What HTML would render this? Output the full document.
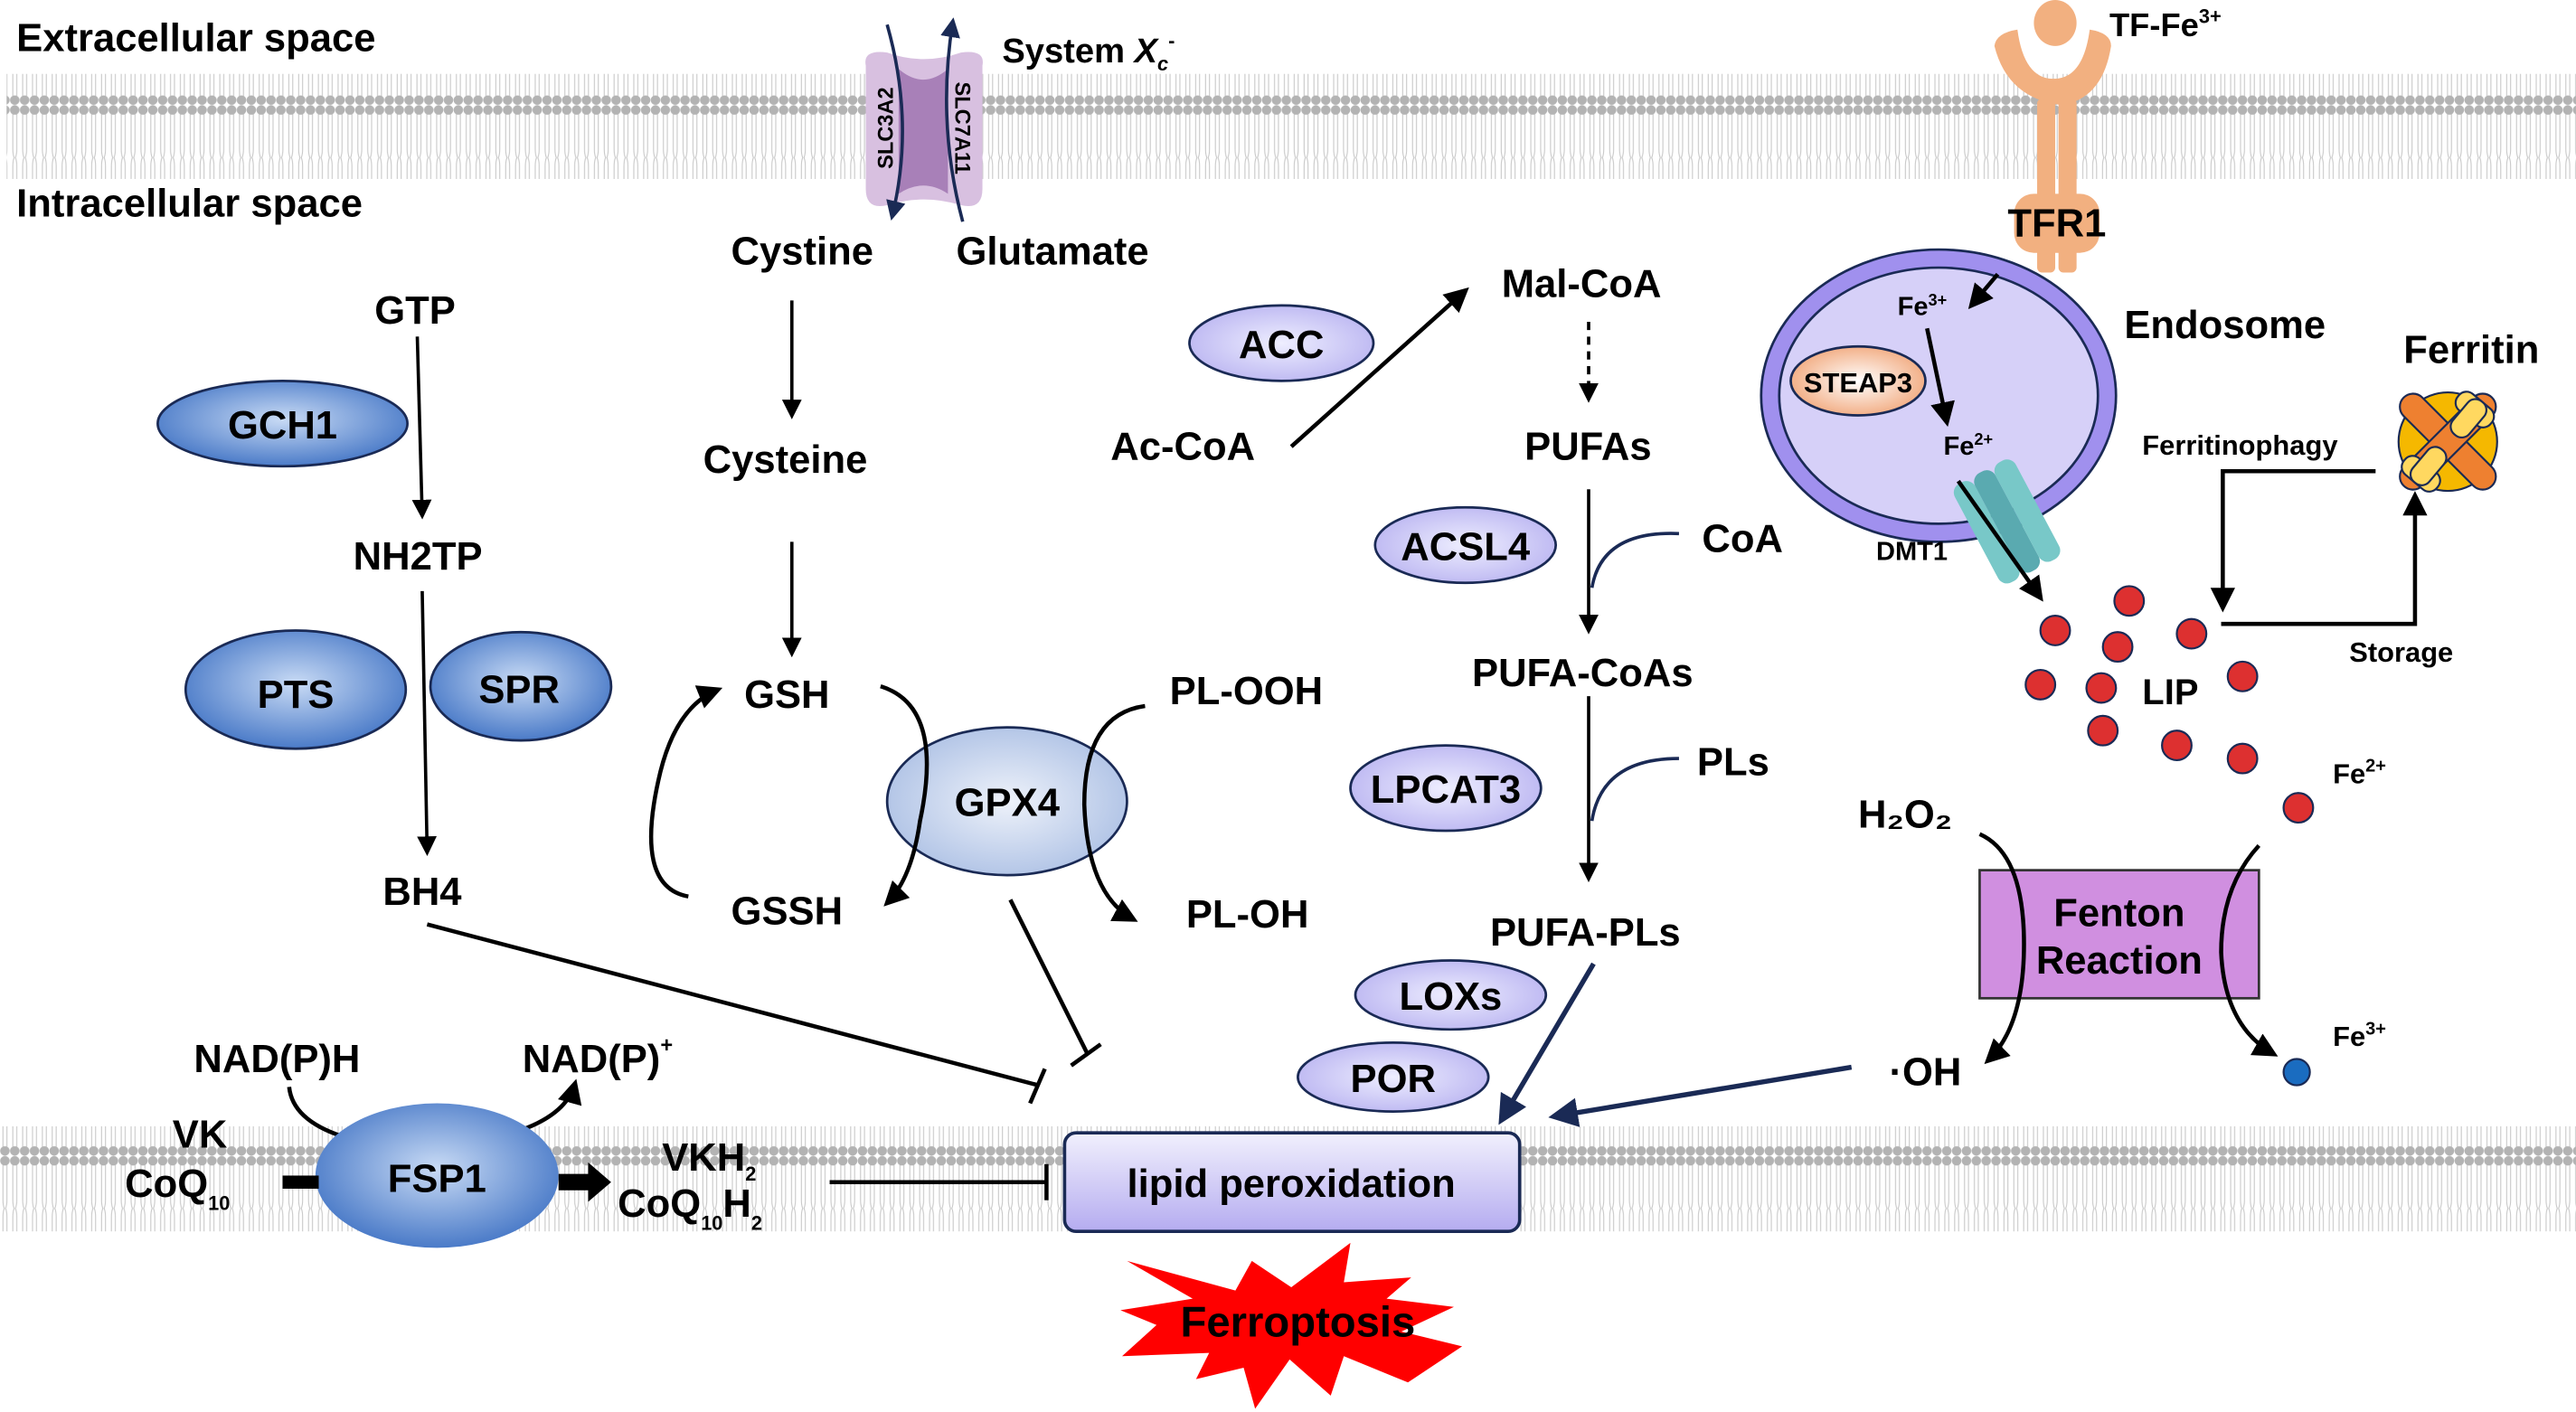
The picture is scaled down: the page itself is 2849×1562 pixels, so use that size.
<!DOCTYPE html>
<html><head><meta charset="utf-8"><style>
html,body{margin:0;padding:0;background:#fff;}
svg{display:block;}
text{font-family:"Liberation Sans",Arial,sans-serif;font-weight:bold;fill:#000;}
</style></head><body>
<svg width="2849" height="1562" viewBox="0 0 1568 860" preserveAspectRatio="none" xmlns="http://www.w3.org/2000/svg">
<defs>
<pattern id="mem" x="0" y="0" width="6" height="64" patternUnits="userSpaceOnUse">
<path d="M1.8 4 V27 Q1.8 30 2.6 32 Q1.8 34 1.8 37 V60 M4.2 4 V27 Q4.2 30 3.4 32 Q4.2 34 4.2 37 V60" stroke="#c8c8c8" stroke-width="0.6" fill="none"/>
<circle cx="3" cy="3" r="2.9" fill="#b3b3b3"/>
<circle cx="3" cy="61" r="2.9" fill="#b3b3b3"/>
</pattern>
<radialGradient id="blue" cx="50%" cy="45%" r="60%"><stop offset="0" stop-color="#c9dbf5"/><stop offset="1" stop-color="#3f72c4"/></radialGradient>
<radialGradient id="lblue" cx="50%" cy="50%" r="60%"><stop offset="0" stop-color="#eef2fa"/><stop offset="1" stop-color="#a8bde3"/></radialGradient>
<radialGradient id="lav" cx="50%" cy="50%" r="60%"><stop offset="0" stop-color="#eeeeff"/><stop offset="1" stop-color="#b7b1f0"/></radialGradient>
<linearGradient id="lavbox" x1="0" y1="0" x2="0" y2="1"><stop offset="0" stop-color="#f1f0fd"/><stop offset="1" stop-color="#b5acf0"/></linearGradient>
<radialGradient id="org" cx="50%" cy="50%" r="60%"><stop offset="0" stop-color="#fff" /><stop offset="1" stop-color="#f0a070"/></radialGradient>
<marker id="ah" viewBox="0 0 10 10" refX="8" refY="5" markerWidth="6" markerHeight="6" orient="auto-start-reverse"><path d="M0 0 L10 5 L0 10 z" fill="#000"/></marker>
<marker id="ahn" viewBox="0 0 10 10" refX="8" refY="5" markerWidth="6" markerHeight="6" orient="auto-start-reverse"><path d="M0 0 L10 5 L0 10 z" fill="#1a2a55"/></marker>
</defs>
<rect width="1568" height="860" fill="#fff"/>
<rect x="4" y="45" width="1564" height="64" fill="url(#mem)"/>
<rect x="0" y="686" width="1568" height="64" fill="url(#mem)"/>

<text x="10" y="31" font-size="24">Extracellular space</text>
<text x="10" y="132" font-size="24">Intracellular space</text>

<path d="M527 40 Q525 30 540 32 Q562 40 585 32 Q600 30 598 40 L598 115 Q598 128 585 125 Q562 118 540 125 Q527 128 527 115 Z" fill="#d8c0e0"/>
<path d="M547 42 Q562 55 577 42 L577 118 Q562 108 547 118 Z" fill="#a880b8"/>
<text transform="translate(540 78) rotate(-90)" font-size="13" text-anchor="middle" dominant-baseline="middle">SLC3A2</text>
<text transform="translate(585 78) rotate(90)" font-size="13" text-anchor="middle" dominant-baseline="middle">SLC7A11</text>
<path d="M540 15 Q557 75 543 132" stroke="#1a2a55" stroke-width="2" fill="none" marker-end="url(#ahn)"/>
<path d="M586 135 Q570 75 580 13" stroke="#1a2a55" stroke-width="2" fill="none" marker-end="url(#ahn)"/>
<text x="610" y="38" font-size="21">System <tspan font-style="italic">X</tspan><tspan font-size="12" dy="5" font-style="italic">c</tspan><tspan font-size="12" dy="-14">-</tspan></text>
<text x="445" y="161" font-size="24">Cystine</text>
<text x="582" y="161" font-size="24">Glutamate</text>

<text x="228" y="197" font-size="24">GTP</text>
<ellipse cx="172" cy="258" rx="76" ry="26" fill="url(#blue)" stroke="#1a2a55" stroke-width="1.5"/>
<text x="172" y="267" font-size="24" text-anchor="middle">GCH1</text>
<line x1="254" y1="205" x2="257" y2="314" stroke="#000" stroke-width="2" marker-end="url(#ah)"/>
<text x="215" y="347" font-size="24">NH2TP</text>
<ellipse cx="180" cy="420" rx="67" ry="36" fill="url(#blue)" stroke="#1a2a55" stroke-width="1.5"/>
<text x="180" y="431" font-size="24" text-anchor="middle">PTS</text>
<ellipse cx="317" cy="418" rx="55" ry="33" fill="url(#blue)" stroke="#1a2a55" stroke-width="1.5"/>
<text x="316" y="428" font-size="24" text-anchor="middle">SPR</text>
<line x1="257" y1="360" x2="260" y2="519" stroke="#000" stroke-width="2" marker-end="url(#ah)"/>
<text x="233" y="551" font-size="24">BH4</text>
<line x1="260" y1="563" x2="632" y2="661" stroke="#000" stroke-width="2.5"/>
<line x1="627" y1="672" x2="636" y2="651" stroke="#000" stroke-width="2.5"/>

<line x1="482" y1="183" x2="482" y2="253" stroke="#000" stroke-width="2" marker-end="url(#ah)"/>
<text x="428" y="288" font-size="24">Cysteine</text>
<line x1="482" y1="330" x2="482" y2="398" stroke="#000" stroke-width="2" marker-end="url(#ah)"/>
<text x="453" y="431" font-size="24">GSH</text>
<text x="445" y="563" font-size="24">GSSH</text>
<ellipse cx="613" cy="488" rx="73" ry="45" fill="url(#lblue)" stroke="#1a2a55" stroke-width="1.5"/>
<text x="613" y="497" font-size="24" text-anchor="middle">GPX4</text>
<path d="M419 546 Q385 540 402 470 Q412 430 437 420" stroke="#000" stroke-width="2.5" fill="none" marker-end="url(#ah)"/>
<path d="M536 418 Q575 430 560 500 Q555 535 540 550" stroke="#000" stroke-width="2.5" fill="none" marker-end="url(#ah)"/>
<path d="M697 430 Q660 435 660 490 Q662 545 690 560" stroke="#000" stroke-width="2.5" fill="none" marker-end="url(#ah)"/>
<text x="712" y="429" font-size="24">PL-OOH</text>
<text x="722" y="565" font-size="24">PL-OH</text>
<line x1="615" y1="548" x2="662" y2="642" stroke="#000" stroke-width="2.5"/>
<line x1="652" y1="649" x2="670" y2="636" stroke="#000" stroke-width="2.5"/>

<ellipse cx="780" cy="209" rx="56" ry="23" fill="url(#lav)" stroke="#1a2a55" stroke-width="1.5"/>
<text x="780" y="218" font-size="24" text-anchor="middle">ACC</text>
<text x="676" y="280" font-size="24">Ac-CoA</text>
<line x1="786" y1="272" x2="892" y2="177" stroke="#000" stroke-width="2.5" marker-end="url(#ah)"/>
<text x="914" y="181" font-size="24">Mal-CoA</text>
<line x1="967" y1="196" x2="967" y2="243" stroke="#000" stroke-width="2" stroke-dasharray="5,4" marker-end="url(#ah)"/>
<text x="928" y="280" font-size="24">PUFAs</text>
<line x1="967" y1="298" x2="967" y2="384" stroke="#000" stroke-width="2" marker-end="url(#ah)"/>
<ellipse cx="892" cy="332" rx="55" ry="23" fill="url(#lav)" stroke="#1a2a55" stroke-width="1.5"/>
<text x="892" y="341" font-size="24" text-anchor="middle">ACSL4</text>
<path d="M1022 325 Q975 323 969 358" stroke="#1a2a55" stroke-width="2" fill="none"/>
<text x="1036" y="336" font-size="24">CoA</text>
<text x="896" y="418" font-size="24">PUFA-CoAs</text>
<line x1="967" y1="424" x2="967" y2="535" stroke="#000" stroke-width="2" marker-end="url(#ah)"/>
<ellipse cx="880" cy="480" rx="58" ry="26" fill="url(#lav)" stroke="#1a2a55" stroke-width="1.5"/>
<text x="880" y="489" font-size="24" text-anchor="middle">LPCAT3</text>
<path d="M1022 462 Q975 462 969 500" stroke="#1a2a55" stroke-width="2" fill="none"/>
<text x="1033" y="472" font-size="24">PLs</text>
<text x="907" y="576" font-size="24">PUFA-PLs</text>
<ellipse cx="883" cy="606" rx="58" ry="21" fill="url(#lav)" stroke="#1a2a55" stroke-width="1.5"/>
<text x="883" y="615" font-size="24" text-anchor="middle">LOXs</text>
<ellipse cx="848" cy="656" rx="58" ry="21" fill="url(#lav)" stroke="#1a2a55" stroke-width="1.5"/>
<text x="848" y="665" font-size="24" text-anchor="middle">POR</text>
<line x1="970" y1="587" x2="914" y2="682" stroke="#1a2a55" stroke-width="3" marker-end="url(#ahn)"/>
<line x1="1127" y1="650" x2="946" y2="680" stroke="#1a2a55" stroke-width="3" marker-end="url(#ahn)"/>

<rect x="648" y="690" width="277" height="60" rx="7" fill="url(#lavbox)" stroke="#1a2a55" stroke-width="2"/>
<text x="786" y="729" font-size="24" text-anchor="middle">lipid peroxidation</text>

<path d="M176 662 Q178 682 208 692" stroke="#000" stroke-width="2.5" fill="none"/>
<path d="M318 688 Q345 678 350 660" stroke="#000" stroke-width="2.5" fill="none" marker-end="url(#ah)"/>
<ellipse cx="266" cy="716" rx="74" ry="44" fill="url(#blue)"/>
<text x="266" y="726" font-size="24" text-anchor="middle">FSP1</text>
<text x="118" y="653" font-size="24">NAD(P)H</text>
<text x="318" y="653" font-size="24">NAD(P)<tspan font-size="13" dy="-12">+</tspan></text>
<text x="105" y="699" font-size="24">VK</text>
<text x="76" y="729" font-size="24">CoQ<tspan font-size="12" dy="8">10</tspan></text>
<rect x="172" y="716" width="22" height="8" fill="#000"/>
<path d="M340 715 L358 715 L358 708 L372 720 L358 732 L358 725 L340 725 Z" fill="#000"/>
<text x="403" y="713" font-size="24">VKH<tspan font-size="12" dy="6">2</tspan></text>
<text x="376" y="741" font-size="24">CoQ<tspan font-size="12" dy="8">10</tspan><tspan dy="-8">H</tspan><tspan font-size="12" dy="8">2</tspan></text>
<line x1="505" y1="720" x2="637" y2="720" stroke="#000" stroke-width="2.5"/>
<line x1="637" y1="709" x2="637" y2="731" stroke="#000" stroke-width="2.5"/>

<polygon points="686,768 752,786 762,768 786,784 822,757 818,781 859,778 844,791 885,796 853,811 890,820 857,842 818,826 810,850 785,828 764,858 757,833 728,840 736,824 683,826 704,807 682,798 726,791" fill="#ff0000"/>
<text x="790" y="814" font-size="26" text-anchor="middle" fill="#231815">Ferroptosis</text>

<path d="M1228 18 Q1232 48 1250 48 Q1268 48 1272 18 Q1285 20 1285 28 Q1280 60 1255 64 Q1222 60 1214 28 Q1215 20 1228 18 Z" fill="#f2b080"/>
<ellipse cx="1251" cy="14" rx="13" ry="14" fill="#f2b080"/>
<rect x="1240" y="60" width="11" height="106" rx="3" fill="#f2b080"/>
<rect x="1253" y="60" width="11" height="106" rx="3" fill="#f2b080"/>
<rect x="1226" y="118" width="52" height="36" rx="12" fill="#f2b080"/>
<text x="1252" y="144" font-size="24" text-anchor="middle">TFR1</text>
<text x="1284" y="22" font-size="20">TF-Fe<tspan font-size="12" dy="-8">3+</tspan></text>

<ellipse cx="1180" cy="241" rx="108" ry="89" fill="#a090ee" stroke="#1a2a55" stroke-width="1.5"/>
<ellipse cx="1180" cy="241" rx="97" ry="78" fill="#d6d0f8" stroke="#1a2a55" stroke-width="1.5"/>
<ellipse cx="1131" cy="232" rx="41" ry="21" fill="url(#org)" stroke="#1a2a55" stroke-width="1.5"/>
<text x="1131" y="239" font-size="17" text-anchor="middle">STEAP3</text>
<text x="1155" y="192" font-size="16">Fe<tspan font-size="10" dy="-6">3+</tspan></text>
<text x="1183" y="277" font-size="16">Fe<tspan font-size="10" dy="-6">2+</tspan></text>
<line x1="1216" y1="167" x2="1200" y2="186" stroke="#000" stroke-width="2.5" marker-end="url(#ah)"/>
<line x1="1173" y1="200" x2="1185" y2="257" stroke="#000" stroke-width="2.5" marker-end="url(#ah)"/>
<g transform="translate(1219 319) rotate(-28)">
<rect x="-18" y="-34" width="14" height="68" rx="6" fill="#78c8c8"/>
<rect x="-4" y="-34" width="14" height="68" rx="6" fill="#5aaab0"/>
<rect x="10" y="-34" width="14" height="68" rx="6" fill="#78c8c8"/>
</g>
<line x1="1192" y1="293" x2="1242" y2="364" stroke="#000" stroke-width="2.5" marker-end="url(#ah)"/>
<text x="1142" y="341" font-size="16">DMT1</text>
<text x="1293" y="206" font-size="24">Endosome</text>
<text x="1463" y="221" font-size="24">Ferritin</text>

<g transform="translate(1490 269)">
<circle r="30" fill="#f5b800" stroke="#1a2a55" stroke-width="1.2"/>
<g stroke="#1a2a55" stroke-width="1.2">
<rect x="-38" y="-8" width="76" height="16" rx="8" fill="#ee8030" transform="rotate(45)"/>
<rect x="-38" y="-8" width="76" height="16" rx="8" fill="#ee8030" transform="rotate(-45)"/>
<rect x="-13" y="-32" width="26" height="13" rx="6" fill="#ffd860" transform="rotate(40)"/>
<rect x="-13" y="19" width="26" height="13" rx="6" fill="#ffd860" transform="rotate(40)"/>
<rect x="-32" y="-6" width="26" height="13" rx="6" fill="#ffd860" transform="rotate(-50)"/>
<rect x="6" y="-6" width="26" height="13" rx="6" fill="#ffd860" transform="rotate(-50)"/>
</g>
</g>
<text x="1304" y="277" font-size="17">Ferritinophagy</text>
<polyline points="1446,287 1353,287 1353,370" stroke="#000" stroke-width="2.5" fill="none" marker-end="url(#ah)"/>
<polyline points="1352,380 1470,380 1470,302" stroke="#000" stroke-width="2.5" fill="none" marker-end="url(#ah)"/>
<text x="1430" y="403" font-size="17">Storage</text>

<g fill="#dd3030" stroke="#1a2a55" stroke-width="1.2">
<circle cx="1251" cy="384" r="9"/><circle cx="1296" cy="366" r="9"/><circle cx="1289" cy="394" r="9"/>
<circle cx="1334" cy="386" r="9"/><circle cx="1242" cy="417" r="9"/><circle cx="1279" cy="419" r="9"/>
<circle cx="1365" cy="412" r="9"/><circle cx="1280" cy="445" r="9"/><circle cx="1325" cy="454" r="9"/>
<circle cx="1365" cy="462" r="9"/><circle cx="1399" cy="492" r="9"/>
</g>
<text x="1304" y="429" font-size="22">LIP</text>
<text x="1420" y="477" font-size="17">Fe<tspan font-size="11" dy="-7">2+</tspan></text>
<circle cx="1398" cy="653" r="8" fill="#1a6cc0" stroke="#1a2a55" stroke-width="1.2"/>
<text x="1420" y="637" font-size="17">Fe<tspan font-size="11" dy="-7">3+</tspan></text>

<rect x="1205" y="530" width="170" height="78" fill="#d08fe0" stroke="#333" stroke-width="1.5"/>
<text x="1290" y="564" font-size="24" text-anchor="middle">Fenton</text>
<text x="1290" y="593" font-size="24" text-anchor="middle">Reaction</text>
<text x="1131" y="504" font-size="24">H₂O₂</text>
<path d="M1205 508 Q1232 520 1232 575 Q1232 625 1210 646" stroke="#000" stroke-width="2.5" fill="none" marker-end="url(#ah)"/>
<path d="M1375 515 Q1352 540 1352 580 Q1354 625 1384 642" stroke="#000" stroke-width="2.5" fill="none" marker-end="url(#ah)"/>
<text x="1150" y="661" font-size="24">·OH</text>
</svg>
</body></html>
